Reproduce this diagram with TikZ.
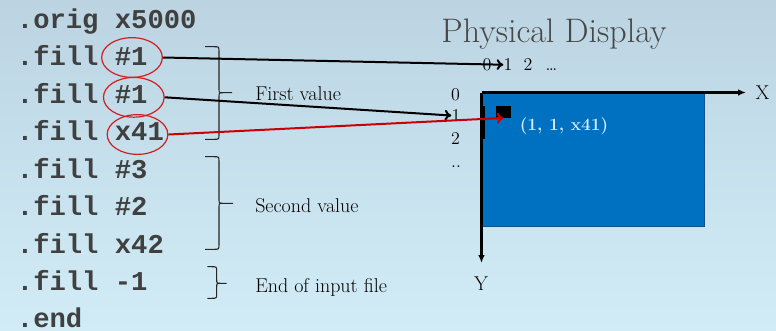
\documentclass[tikz,border=0pt]{standalone}
\usepackage{fontspec}
\newfontfamily\codefont{Liberation Mono}
\usetikzlibrary{arrows.meta,shapes.geometric}
\definecolor{bgtop}{RGB}{188,212,226}
\definecolor{bgbot}{RGB}{209,236,247}
\definecolor{codegray}{RGB}{64,64,64}
\definecolor{titlegray}{RGB}{72,72,72}
\definecolor{dispblue}{RGB}{0,112,192}
\definecolor{dispedge}{RGB}{20,80,140}
\definecolor{circred}{RGB}{210,30,30}
\definecolor{arrred}{RGB}{200,0,0}
\definecolor{pixtext}{RGB}{215,235,248}
\newcommand\drawbrace[6]{%
  \draw[bracestyle] (#1,#4) -- (#2-5,#4) .. controls (#2,#4) .. (#2,#4+5)
     -- (#2,#5-4) .. controls (#2,#5) .. (#2+4,#5) -- (#3,#5);
  \draw[bracestyle] (#2+4,#5) .. controls (#2,#5) .. (#2,#5+4)
     -- (#2,#6-5) .. controls (#2,#6) .. (#2-5,#6) -- (#1,#6);}
\begin{document}
\begin{tikzpicture}[x=0.75pt,y=-0.75pt,
  code/.style={anchor=base west,inner sep=0pt,font=\codefont\bfseries\fontsize{20.4}{22}\selectfont,text=codegray},
  circ/.style={ellipse,draw=circred,line width=0.9pt,minimum width=45.5pt,minimum height=29.8pt,inner sep=0pt},
  lbl/.style={anchor=base west,inner sep=0pt,font=\fontsize{15}{16}\selectfont,text=black},
  num/.style={anchor=base,inner sep=0pt,font=\fontsize{13.5}{14}\selectfont,text=black},
  axlbl/.style={anchor=base,inner sep=0pt,font=\fontsize{15}{16}\selectfont,text=black},
  link/.style={line width=1.5pt,-{To[length=5pt,width=8pt]}},
  axis/.style={line width=1.8pt,-{Latex[length=6pt,width=5pt]}},
  bracestyle/.style={line width=0.8pt,draw=black!85},
]
\useasboundingbox (0,0) rectangle (776,330);
\shade[top color=bgtop,bottom color=bgbot] (0,0) rectangle (776,330);

% code lines
\node[code] (code0) at (16.7,28)    {.orig x5000};
\node[code] (code1) at (16.7,65.5)  {.fill \#1};
\node[code] (code2) at (16.7,103)   {.fill \#1};
\node[code] (code3) at (16.7,140.5) {.fill x41};
\node[code] (code4) at (16.7,178)   {.fill \#3};
\node[code] (code5) at (16.7,215.5) {.fill \#2};
\node[code] (code6) at (16.7,253)   {.fill x42};
\node[code] (code7) at (16.7,290.5) {.fill -1};
\node[code] (code8) at (16.7,327.5) {.end};

% circles
\node[circ] (c1) at (132,57.5) {};
\node[circ] (c2) at (133.8,97.3) {};
\node[circ] (c3) at (137.5,134.5) {};

% braces
\drawbrace{205}{219}{232}{46.7}{92.7}{139.3}
\drawbrace{205}{219}{233}{156.7}{203.3}{249.3}
\drawbrace{207.3}{216.7}{226.7}{266.7}{283.3}{298.3}

\node[lbl] (first) at (255,100.7) {First value};
\node[lbl] (second) at (255,212.7) {Second value};
\node[lbl] (endin) at (255,292.5) {End of input file};

% title
\node[anchor=base,inner sep=0pt,font=\fontsize{25.5}{27}\selectfont,text=titlegray] (title) at (554,42) {Physical Display};

% display
\fill[dispblue,draw=dispedge,line width=0.6pt] (482.7,93.5) rectangle (704,226);
\coordinate (O) at (481.5,92.5);
\coordinate (Xe) at (746,92.5);
\coordinate (Ye) at (481.5,263);
\draw[axis] (O) -- (Xe);
\draw[axis] (O) -- (Ye);
\fill[black] (480,106) rectangle (484.5,139.3);
\node[axlbl] (xl) at (762.5,99.3) {X};
\node[axlbl] (yl) at (481,290.7) {Y};

% column numbers
\node[num] (t0) at (487,70.7) {0};
\node[num] (t1) at (508,70.7) {1};
\node[num] (t2) at (528,70.7) {2};
\node[num] (tdots) at (551.5,70.7) {\dots};
% row numbers
\node[num] (r0) at (455.5,100) {0};
\node[num] (r1) at (456,121.5) {1};
\node[num] (r2) at (455.5,144.3) {2};
\node[num] (rdots) at (456,167) {..};

% pixel
\node[fill=black,minimum width=11.25pt,minimum height=8.8pt,inner sep=0pt] (sq) at (503.5,111.8) {};
\node[inner sep=0pt,font=\bfseries\fontsize{13}{14}\selectfont,text=pixtext] (pix) at (564,126) {(1, 1, x41)};

% connectors
\draw[link] (c1.east) -- (t1.west);
\draw[link] (c2.east) -- (r1.west);
\draw[link,draw=arrred] (c3.east) -- (sq.south);
\end{tikzpicture}
\end{document}
